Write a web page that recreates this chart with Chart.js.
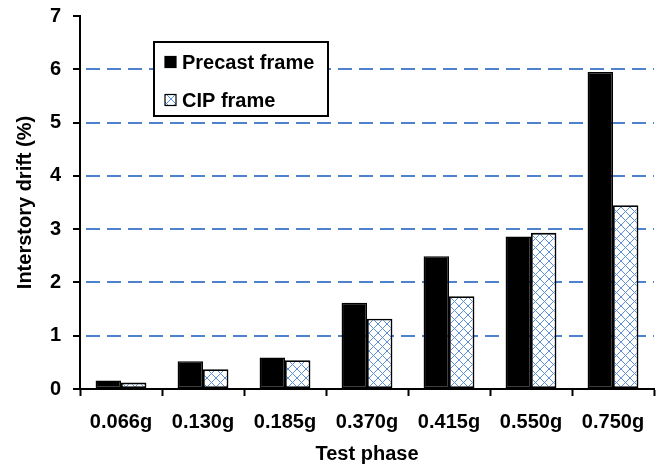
<!DOCTYPE html>
<html>
<head>
<meta charset="utf-8">
<script src="https://cdn.jsdelivr.net/npm/chart.js@4/dist/chart.umd.min.js"></script>
<style>
  html, body { margin: 0; padding: 0; background: #fff; }
  #wrap { width: 659px; height: 468px; }
</style>
</head>
<body>
<div id="wrap"><canvas id="c" width="659" height="468"></canvas></div>
<script>
// Test phases (peak ground acceleration) and measured interstory drift, %
const phases = ['0.066g', '0.130g', '0.185g', '0.370g', '0.415g', '0.550g', '0.750g'];
const precastDrift = [0.16, 0.52, 0.59, 1.62, 2.49, 2.86, 5.95];
const cipDrift = [0.12, 0.37, 0.54, 1.32, 1.74, 2.93, 3.45];
const seriesNames = ['Precast frame', 'CIP frame'];
const yTicks = [0, 1, 2, 3, 4, 5, 6, 7];

const FONT = '"Liberation Sans", Arial, sans-serif';
const GRID_BLUE = '#4f82cc';

// Blue cross-hatch fill for the cast-in-place bars
function crossHatch() {
  const s = 9;
  const t = document.createElement('canvas');
  t.width = s; t.height = s;
  const g = t.getContext('2d');
  g.fillStyle = '#fff';
  g.fillRect(0, 0, s, s);
  g.strokeStyle = '#5b8fd8';
  g.lineWidth = 1;
  g.beginPath();
  g.moveTo(0, 0); g.lineTo(s, s);
  g.moveTo(0, s); g.lineTo(s, 0);
  g.stroke();
  return g.createPattern(t, 'repeat');
}
const hatch = crossHatch();

// Boxed legend drawn inside the plot area
const boxLegend = {
  id: 'boxLegend',
  afterDraw(chart) {
    const ctx = chart.ctx;
    const a = chart.chartArea;
    const x = a.left + 74, y = a.top + 26, w = 174, h = 74;
    ctx.save();
    ctx.fillStyle = '#fff';
    ctx.fillRect(x, y, w, h);
    ctx.strokeStyle = '#000';
    ctx.lineWidth = 2;
    ctx.strokeRect(x, y, w, h);
    ctx.font = 'bold 20px ' + FONT;
    ctx.textBaseline = 'middle';
    chart.data.datasets.forEach((ds, i) => {
      const cy = y + 20 + i * 38;
      ctx.fillStyle = ds.backgroundColor;
      ctx.fillRect(x + 11, cy - 5.5, 11, 11);
      ctx.strokeStyle = '#000';
      ctx.lineWidth = 1.2;
      ctx.strokeRect(x + 11, cy - 5.5, 11, 11);
      ctx.fillStyle = '#000';
      ctx.fillText(ds.label, x + 28, cy + 1);
    });
    ctx.restore();
  }
};

new Chart(document.getElementById('c'), {
  type: 'bar',
  data: {
    labels: phases,
    datasets: [
      { label: seriesNames[0], data: precastDrift, backgroundColor: '#000', borderColor: '#000', borderWidth: 1.5 },
      { label: seriesNames[1], data: cipDrift, backgroundColor: hatch, borderColor: '#000', borderWidth: 1.8 }
    ]
  },
  options: {
    responsive: false,
    animation: false,
    devicePixelRatio: 1,
    layout: { padding: { top: 16, right: 5, left: 3, bottom: 2 } },
    datasets: { bar: { categoryPercentage: 0.62, barPercentage: 1.0, borderSkipped: false } },
    plugins: {
      legend: { display: false },
      tooltip: { enabled: false }
    },
    scales: {
      x: {
        offset: true,
        afterFit(scale) { scale.height = 77; },
        grid: {
          offset: true,
          drawOnChartArea: false,
          drawTicks: true,
          tickLength: 7,
          tickColor: '#000',
          tickWidth: 2
        },
        border: { display: true, color: '#000', width: 2 },
        ticks: { color: '#000', font: { family: FONT, size: 20, weight: 'bold' }, padding: 14, maxRotation: 0 },
        title: { display: true, text: 'Test phase', color: '#000', font: { family: FONT, size: 20, weight: 'bold' }, padding: { top: 8, bottom: 0 } }
      },
      y: {
        min: 0,
        max: 7,
        afterBuildTicks(scale) { scale.ticks = yTicks.map(v => ({ value: v })); },
        afterFit(scale) { scale.width = 77; scale.paddingTop = 12; scale.paddingBottom = 12; },
        grid: {
          color: ctx => (ctx.tick && (ctx.tick.value === 0 || ctx.tick.value === 7)) ? 'rgba(0,0,0,0)' : GRID_BLUE,
          lineWidth: 2,
          drawTicks: true,
          tickLength: 7,
          tickColor: '#000',
          tickWidth: 2
        },
        border: { display: true, color: '#000', width: 2, dash: [14, 7], dashOffset: 16 },
        ticks: { color: '#000', font: { family: FONT, size: 20, weight: 'bold' }, padding: 12 },
        title: { display: true, text: 'Interstory drift (%)', color: '#000', font: { family: FONT, size: 20, weight: 'bold' }, padding: { top: 10, bottom: 13 } }
      }
    }
  },
  plugins: [boxLegend]
});
</script>
</body>
</html>
